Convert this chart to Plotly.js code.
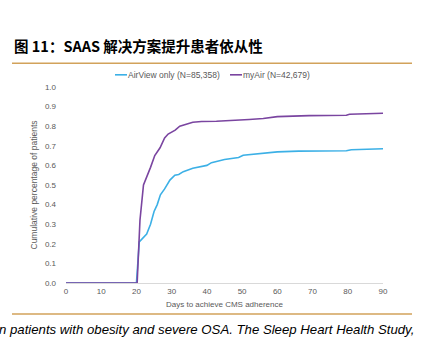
<!DOCTYPE html>
<html>
<head>
<meta charset="utf-8">
<script src="https://cdn.plot.ly/plotly-3.0.1.min.js"></script>
<style>html,body{margin:0;padding:0;background:#fff;}#chart{width:425px;height:351px;}</style>
</head>
<body>
<div id="chart"></div>
<script>
const titleText = "图 11：SAAS 解决方案提升患者依从性";
const footText = "n patients with obesity and severe OSA. The Sleep Heart Health Study,";
const seriesNames = ["AirView only (N=85,358)", "myAir (N=42,679)"];
const seriesColors = ["#3cb0e6", "#7a45a0"];
const xTicks = [0, 10, 20, 30, 40, 50, 60, 70, 80, 90];
const yTicks = [0, 0.1, 0.2, 0.3, 0.4, 0.5, 0.6, 0.7, 0.8, 0.9, 1.0];

const airviewDays = [0, 20, 20.8, 22.9, 24, 25, 25.9, 26.8, 28, 29.5, 30.9, 32, 33.3, 36, 40, 41.3, 45, 49, 50.3, 56, 60, 66, 79.6, 81, 90];
const airviewVals = [0, 0, 0.21, 0.25, 0.30, 0.365, 0.40, 0.45, 0.48, 0.525, 0.55, 0.554, 0.568, 0.585, 0.60, 0.614, 0.63, 0.64, 0.652, 0.661, 0.669, 0.673, 0.675, 0.68, 0.685];

const myairDays = [0, 20.2, 21, 22, 24, 25.2, 26.7, 28, 29, 31, 32.3, 34.2, 36, 38.5, 42.7, 52, 56, 60, 69, 79.6, 80.5, 90];
const myairVals = [0, 0, 0.32, 0.50, 0.59, 0.65, 0.69, 0.74, 0.76, 0.78, 0.80, 0.81, 0.82, 0.824, 0.825, 0.834, 0.839, 0.849, 0.854, 0.856, 0.861, 0.866];

const grey = "#595959";
const orange = "#d2a25a";

// pixel -> paper helpers for plot area (l=66, w=317, bottom=283, h=196.3)
const px = v => (v - 66) / 317;
const py = v => (283 - v) / 196.3;

const traces = [
  {x: airviewDays, y: airviewVals, name: seriesNames[0], type: "scatter", mode: "lines",
   line: {color: seriesColors[0], width: 1.6}},
  {x: myairDays, y: myairVals, name: seriesNames[1], type: "scatter", mode: "lines",
   line: {color: seriesColors[1], width: 1.6}}
];

const legendItems = [{x0: 115, x1: 127}, {x0: 230, x1: 242}];
const legendShapes = legendItems.map((it, i) => ({
  type: "line", xref: "paper", yref: "paper", x0: px(it.x0), x1: px(it.x1),
  y0: py(74.5), y1: py(74.5), line: {color: seriesColors[i], width: 1.6}
}));
const legendAnns = legendItems.map((it, i) => ({
  text: seriesNames[i], xref: "paper", yref: "paper", x: px(it.x1), xanchor: "left",
  y: py(74.5), yanchor: "middle", showarrow: false, xshift: -1,
  font: {size: 8.5, color: grey}
}));

const layout = {
  width: 425, height: 351,
  margin: {l: 66, r: 42, t: 87, b: 68},
  paper_bgcolor: "#fff", plot_bgcolor: "#fff",
  font: {family: "Liberation Sans, Arial, sans-serif", size: 8, color: grey},
  title: {text: "<b>" + titleText + "</b>", xref: "container", yref: "container",
          x: 14/425, xanchor: "left", y: 1 - 47/351, yanchor: "middle",
          font: {family: "Noto Sans CJK SC, sans-serif", size: 14.5, color: "#000"}},
  showlegend: false,
  xaxis: {range: [0, 90], tickvals: xTicks, showgrid: false, zeroline: false,
          showline: true, linecolor: "#d9d9d9", linewidth: 1, ticks: "",
          tickfont: {size: 8, color: grey},
          title: {text: "Days to achieve CMS adherence", font: {size: 8, color: grey}, standoff: 6}},
  yaxis: {range: [0, 1.0], tickvals: yTicks, tickformat: ".1f", showgrid: false, zeroline: false,
          showline: false, ticks: "", ticklabelstandoff: 9,
          tickfont: {size: 8, color: grey},
          title: {text: "Cumulative percentage of patients", font: {size: 8.5, color: grey}, standoff: 5}},
  shapes: [
    {type: "line", xref: "paper", yref: "paper", x0: px(12), x1: px(412),
     y0: py(63), y1: py(63), line: {color: orange, width: 1.5}},
    {type: "line", xref: "paper", yref: "paper", x0: px(12), x1: px(412),
     y0: py(314), y1: py(314), line: {color: orange, width: 1.5}}
  ].concat(legendShapes),
  annotations: [
    {text: "<i>" + footText + "</i>", xref: "paper", yref: "paper", x: px(-3), xanchor: "left",
     y: py(330), yanchor: "middle", showarrow: false,
     font: {family: "Liberation Sans, Arial, sans-serif", size: 13.2, color: "#000"}}
  ].concat(legendAnns)
};

Plotly.newPlot("chart", traces, layout, {displayModeBar: false, staticPlot: true});
</script>
</body>
</html>
